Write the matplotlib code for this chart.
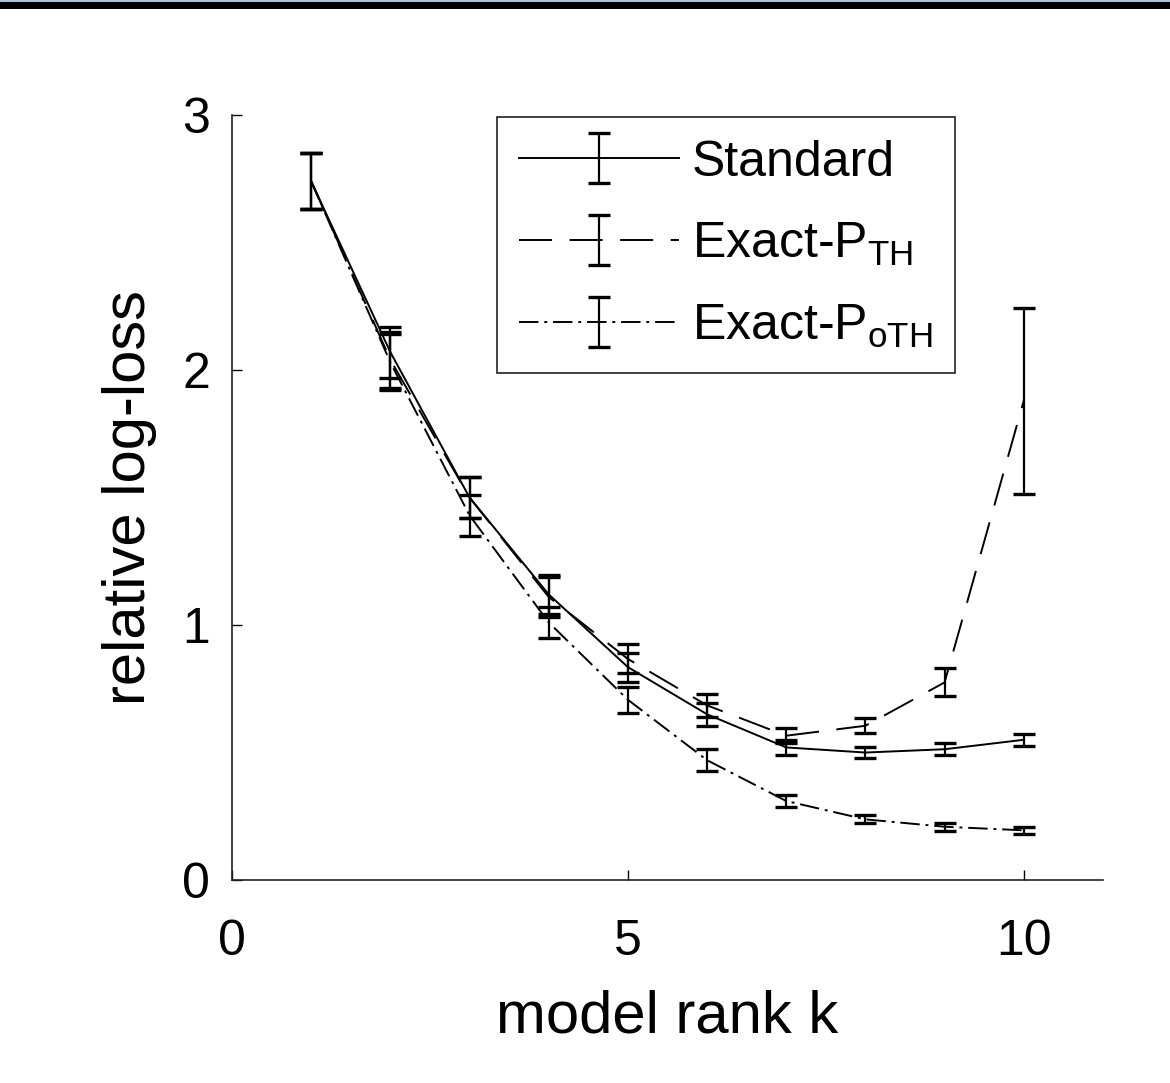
import matplotlib.pyplot as plt
from matplotlib.patches import Rectangle

plt.rcParams["font.family"] = ["Liberation Sans", "DejaVu Sans"]
plt.rcParams["mathtext.fontset"] = "custom"
plt.rcParams["mathtext.rm"] = "Liberation Sans"

# model rank k
ranks = [1, 2, 3, 4, 5, 6, 7, 8, 9, 10]

# Standard
std_mean = [2.74, 2.07, 1.50, 1.12, 0.835, 0.65, 0.52, 0.50, 0.513, 0.55]
std_err = [0.11, 0.10, 0.08, 0.075, 0.057, 0.045, 0.03, 0.02, 0.023, 0.023]

# Exact-P_TH
th_mean = [2.74, 2.04, 1.50, 1.11, 0.867, 0.685, 0.566, 0.605, 0.775, 1.88]
th_err = [0.11, 0.11, 0.08, 0.08, 0.057, 0.045, 0.03, 0.03, 0.055, 0.365]

# Exact-P_oTH
oth_mean = [2.74, 2.03, 1.43, 1.01, 0.707, 0.47, 0.31, 0.238, 0.209, 0.195]
oth_err = [0.11, 0.11, 0.08, 0.06, 0.05, 0.042, 0.025, 0.016, 0.016, 0.014]

labels = ["Standard", r"Exact-P$_{\mathrm{TH}}$", r"Exact-P$_{\mathrm{oTH}}$"]

fig = plt.figure(figsize=(11.7, 10.83), dpi=100)
ax = fig.add_axes([0.1983, 0.1874, 0.7444, 0.7064])

# thin black band along the top edge of the page
fig.add_artist(Rectangle((0, 1 - 9 / 1083), 1, 9 / 1083, transform=fig.transFigure,
                         facecolor="black", edgecolor="none"))
fig.add_artist(Rectangle((0, 1 - 2 / 1083), 1, 2 / 1083, transform=fig.transFigure,
                         facecolor="#a9c3dc", edgecolor="none"))

common = dict(color="black", lw=1.4, capsize=8, capthick=2.4, elinewidth=1.6)
ax.errorbar(ranks, std_mean, yerr=std_err, ls="-", label=labels[0], **common)
ax.errorbar(ranks, th_mean, yerr=th_err, ls=(0, (17, 9)), label=labels[1], **common)
ax.errorbar(ranks, oth_mean, yerr=oth_err, ls=(0, (10, 3, 1.5, 3)), label=labels[2], **common)

ax.set_xlim(0, 11)
ax.set_ylim(0, 3)
ax.set_xticks([0, 5, 10])
ax.set_yticks([0, 1, 2, 3])
ax.tick_params(direction="in", length=7, width=1, labelsize=36)
ax.tick_params(axis="x", pad=28)
ax.tick_params(axis="y", pad=16)
for side in ["top", "right"]:
    ax.spines[side].set_visible(False)
for side in ["left", "bottom"]:
    ax.spines[side].set_linewidth(1.2)
    ax.spines[side].set_color("#222222")

ax.set_xlabel("model rank k", fontsize=43, labelpad=18)
ax.set_ylabel("relative log-loss", fontsize=43, labelpad=18)

leg = ax.legend(loc="upper left", bbox_to_anchor=(0.304, 0.997), borderaxespad=0,
                fontsize=36, handlelength=3.2, handletextpad=0.25, labelspacing=0.7,
                borderpad=0.45, fancybox=False, framealpha=1)
leg.get_frame().set_edgecolor("#222222")
leg.get_frame().set_linewidth(1.2)

fig.savefig("out.png", dpi=100)
